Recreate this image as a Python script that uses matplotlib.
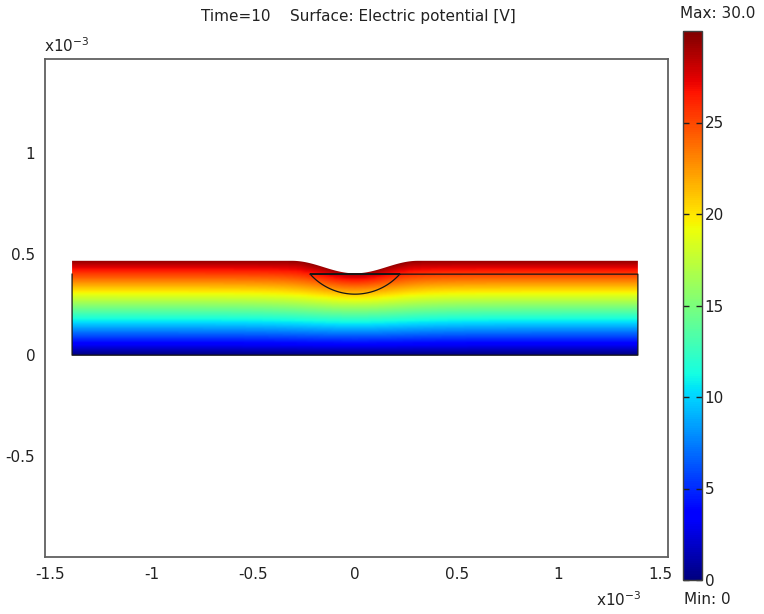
import numpy as np
import matplotlib
matplotlib.use("Agg")
import matplotlib.pyplot as plt
from matplotlib.patches import Polygon

# Geometry (mm)
x_half = 1.39            # half length of the film stack
layer_top = 0.467        # top surface height away from the dimple
interface = 0.401        # interface between the two layers
dimple_half_width = 0.31
dimple_bottom = 0.405
arc_half_width = 0.22    # embedded cap boundary
arc_bottom = 0.302

# Potential boundary values (V)
v_bottom = 0.0
v_top = 30.0
cbar_ticks = [0, 5, 10, 15, 20, 25]
xticks = [-1.5, -1, -0.5, 0, 0.5, 1, 1.5]
yticks = [-0.5, 0, 0.5, 1]

title = "Time=10    Surface: Electric potential [V]"


def surface(x):
    """Height of the top surface with a smooth cosine dimple."""
    x = np.asarray(x, dtype=float)
    depth = layer_top - dimple_bottom
    d = np.where(np.abs(x) < dimple_half_width,
                 0.5 * (1 + np.cos(np.pi * x / dimple_half_width)), 0.0)
    return layer_top - depth * d


# Solve Laplace's equation on a grid: V=0 at the bottom, V=30 on the top surface
dx = 0.01
xs = np.arange(-x_half, x_half + dx / 2, dx)
ys = np.arange(0, layer_top + dx / 2, dx)
X, Y = np.meshgrid(xs, ys)
H = surface(X)
V = v_top * np.clip(Y / H, 0, 1)
fixed = (Y >= H) | (Y <= 0)
fixed_vals = V.copy()
for _ in range(3000):
    P = np.pad(V, 1, mode="edge")
    Vn = 0.25 * (P[:-2, 1:-1] + P[2:, 1:-1] + P[1:-1, :-2] + P[1:-1, 2:])
    V = np.where(fixed, fixed_vals, Vn)

fig = plt.figure(figsize=(7.64, 6.14), dpi=100)
ax = fig.add_axes([45 / 764, 1 - 557.3 / 614, 623 / 764, 498 / 614])

im = ax.imshow(V, origin="lower", cmap="jet", vmin=v_bottom, vmax=v_top,
               extent=[xs[0] - dx / 2, xs[-1] + dx / 2, ys[0] - dx / 2, ys[-1] + dx / 2],
               interpolation="bilinear", aspect="auto", zorder=1)

# Clip the field to the domain outline
xt = np.linspace(x_half, -x_half, 600)
domain = np.vstack([[[-x_half, 0.0], [x_half, 0.0]],
                    np.column_stack([xt, surface(xt)])])
clip = Polygon(domain, closed=True, transform=ax.transData, facecolor="none",
               edgecolor="none")
ax.add_patch(clip)
im.set_clip_path(clip)

# Lower layer boundary with the circular cap cut into it
c = (arc_half_width ** 2 + interface ** 2 - arc_bottom ** 2) / (2 * (interface - arc_bottom))
r = c - arc_bottom
t0 = np.arcsin(arc_half_width / r)
t = np.linspace(t0, -t0, 100)
arc = np.column_stack([r * np.sin(t), c - r * np.cos(t)])
outline = np.vstack([[[-x_half, interface], [-x_half, 0.0], [x_half, 0.0],
                      [x_half, interface], [arc_half_width, interface]],
                     arc[::-1],
                     [[-arc_half_width, interface]]])
ax.plot(outline[:, 0], outline[:, 1], color="#151515", lw=0.9, zorder=3)

ax.set_xlim(-1.523, 1.538)
ax.set_ylim(-1.0, 1.464)
ax.set_xticks(xticks)
ax.set_yticks(yticks)
ax.set_xticklabels([f"{v:g}" for v in xticks])
ax.set_yticklabels([f"{v:g}" for v in yticks])
ax.tick_params(length=0, labelsize=11, pad=7, colors="#222222")
for s in ax.spines.values():
    s.set_color("#606060")
    s.set_linewidth(1.3)

fig.text(44 / 764, 1 - 46 / 614, r"x10$^{-3}$", fontsize=11, ha="left", va="center",
         color="#222222")
fig.text(596 / 764, 1 - 600 / 614, r"x10$^{-3}$", fontsize=11, ha="left", va="center",
         color="#222222")
fig.text(358 / 764, 1 - 16 / 614, title, fontsize=11, ha="center", va="center",
         color="#222222")

# Colorbar
cax = fig.add_axes([683 / 764, 1 - 580 / 614, 19 / 764, 549 / 614])
cb = fig.colorbar(im, cax=cax, ticks=cbar_ticks)
cb.outline.set_edgecolor("#404040")
cb.outline.set_linewidth(1.0)
cax.tick_params(which="both", direction="in", length=4, width=1, colors="#202020",
                left=True, right=True, labelleft=False, labelright=True,
                labelsize=11, pad=2)
fig.text(718 / 764, 1 - 14 / 614, f"Max: {v_top:.1f}", fontsize=11, ha="center",
         va="center", color="#222222")
fig.text(684 / 764, 1 - 600 / 614, f"Min: {v_bottom:g}", fontsize=11, ha="left",
         va="center", color="#222222")

fig.savefig("out.png", dpi=100)
